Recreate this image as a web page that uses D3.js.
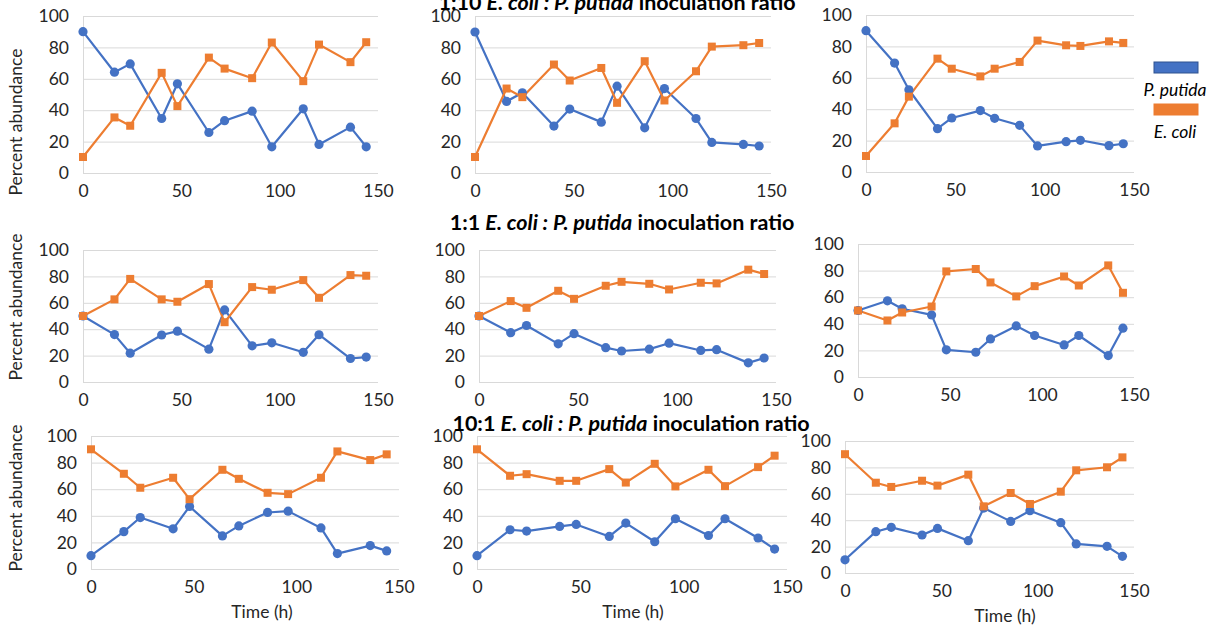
<!DOCTYPE html>
<html><head><meta charset="utf-8">
<script src="https://cdn.jsdelivr.net/npm/d3@7"></script>
<style>
html,body{margin:0;padding:0;background:#fff;}
svg{display:block;font-family:Lato,"Noto Sans",sans-serif;}
</style></head>
<body>
<svg id="c" width="1217" height="628"></svg>
<script>
// ---- data ----
const times = [0, 16, 24, 40, 48, 64, 72, 86, 96, 112, 120, 136, 144];
const xTicks = [0, 50, 100, 150];
const yTicks = [0, 20, 40, 60, 80, 100];
const seriesNames = ["P. putida", "E. coli"];

// 1:10 E. coli : P. putida
const putidaA1 = [90, 64.2, 69.5, 34.7, 56.8, 25.8, 33.3, 39.4, 16.7, 40.9, 18.2, 29.2, 16.7];
const coliA1   = [10.2, 35.4, 30.1, 63.8, 42.6, 73.5, 66.5, 60.4, 83.1, 58.5, 81.8, 70.6, 83.3];
const putidaA2 = [89.8, 45.6, 51.1, 29.9, 40.7, 32.4, 55.3, 28.8, 53.8, 34.7, 19.5, 18.2, 17.2];
const coliA2   = [10.2, 53.8, 48.3, 69.1, 58.9, 66.9, 44.7, 71.2, 46.2, 64.8, 80.5, 81.4, 82.8];
const putidaA3 = [90, 69.4, 52.4, 27.6, 34.4, 39.1, 34.2, 29.7, 16.6, 19.3, 20.2, 16.8, 18.0];
const coliA3   = [10.2, 31.0, 48.0, 72.2, 65.8, 60.9, 65.8, 70.1, 83.7, 80.7, 80.3, 83.2, 82.2];
// 1:1
const putidaB1 = [50, 35.9, 21.8, 35.6, 38.5, 24.9, 54.6, 27.4, 29.7, 22.5, 35.8, 17.8, 18.9];
const coliB1   = [50, 62.6, 78.1, 62.6, 60.8, 74.2, 45.3, 71.9, 69.9, 77.2, 63.8, 81.0, 80.5];
const putidaB2 = [50, 37.4, 42.8, 28.9, 36.6, 26.0, 23.5, 24.9, 29.4, 23.9, 24.5, 14.5, 18.2];
const coliB2   = [50, 61.3, 56.2, 69.1, 63.0, 72.9, 75.9, 74.4, 70.1, 75.2, 74.7, 85.1, 81.8];
const putidaB3 = [50, 57.3, 51.3, 46.7, 20.4, 18.6, 28.6, 38.4, 31.2, 24.1, 31.2, 16.1, 36.7];
const coliB3   = [50, 42.5, 48.5, 53.0, 79.4, 81.2, 71.1, 60.6, 68.3, 75.6, 68.8, 83.9, 63.3];
// 10:1
const putidaC1 = [10, 28.1, 38.7, 30.2, 47.0, 24.9, 32.4, 42.5, 43.5, 30.9, 11.6, 17.6, 13.6];
const coliC1   = [90, 71.6, 61.1, 68.6, 52.5, 74.6, 67.8, 57.3, 56.3, 68.6, 88.4, 81.9, 86.2];
const putidaC2 = [10, 29.5, 28.5, 32.0, 33.5, 24.5, 34.5, 20.5, 37.8, 25.2, 37.8, 23.3, 15.0];
const coliC2   = [90, 70.1, 71.3, 66.3, 66.3, 75.1, 65.0, 79.1, 62.1, 74.6, 62.3, 76.6, 85.2];
const putidaC3 = [10, 31.3, 34.6, 28.8, 33.8, 24.5, 49.2, 39.1, 47.2, 38.1, 22.0, 20.2, 12.6];
const coliC3   = [90, 68.4, 65.2, 69.9, 66.2, 74.5, 50.5, 60.6, 52.3, 61.6, 77.8, 80.1, 87.6];

const titles = [
  {pre: "1:10 ", it: "E. coli : P. putida", post: " inoculation ratio"},
  {pre: "1:1 ",  it: "E. coli : P. putida", post: " inoculation ratio"},
  {pre: "10:1 ", it: "E. coli : P. putida", post: " inoculation ratio"}
];
const yLabel = "Percent abundance";
const xLabel = "Time (h)";

// ---- layout ----
const colors = ["#4472C4", "#ED7D31"];
const panels = [
  {x0: 83,  x1: 378,  y0: 173, y1: 16,  p: putidaA1, e: coliA1, ylab: 122},
  {x0: 475, x1: 771,  y0: 173, y1: 16,  p: putidaA2, e: coliA2},
  {x0: 866, x1: 1134, y0: 172, y1: 15,  p: putidaA3, e: coliA3},
  {x0: 83,  x1: 378,  y0: 382, y1: 250, p: putidaB1, e: coliB1, ylab: 307},
  {x0: 479, x1: 776,  y0: 382, y1: 250, p: putidaB2, e: coliB2},
  {x0: 858, x1: 1134, y0: 377, y1: 244, p: putidaB3, e: coliB3},
  {x0: 91,  x1: 399,  y0: 569, y1: 436, p: putidaC1, e: coliC1, ylab: 498, xl: 262},
  {x0: 477, x1: 787,  y0: 569, y1: 436, p: putidaC2, e: coliC2, xl: 633},
  {x0: 845, x1: 1134, y0: 573, y1: 441, p: putidaC3, e: coliC3, xl: 1005}
];

const svg = d3.select("#c");
const tickColor = "#262626";
const fs = "17.5px";

panels.forEach(P => {
  const x = d3.scaleLinear().domain([0, 150]).range([P.x0, P.x1]);
  const y = d3.scaleLinear().domain([0, 100]).range([P.y0, P.y1]);
  const g = svg.append("g");

  // gridlines
  g.selectAll("line.grid").data(yTicks).join("line")
    .attr("x1", P.x0).attr("x2", P.x1)
    .attr("y1", d => y(d) + 0.5).attr("y2", d => y(d) + 0.5)
    .attr("stroke", "#d9d9d9").attr("stroke-width", 1);
  g.append("line").attr("x1", P.x0 + 0.5).attr("x2", P.x0 + 0.5)
    .attr("y1", y(0)).attr("y2", y(100)).attr("stroke", "#d9d9d9");

  // axes
  const ya = g.append("g").attr("transform", `translate(${P.x0},0)`)
    .call(d3.axisLeft(y).tickValues(yTicks).tickSize(0).tickPadding(14).tickFormat(d3.format("d")));
  const xa = g.append("g").attr("transform", `translate(0,${P.y0})`)
    .call(d3.axisBottom(x).tickValues(xTicks).tickSize(0).tickPadding(12).tickFormat(d3.format("d")));
  [ya, xa].forEach(a => {
    a.select(".domain").remove();
    a.selectAll("text").attr("fill", tickColor).style("font-size", fs)
      .style("font-family", "Lato, 'Noto Sans', sans-serif");
  });

  const line = d3.line().x((d, i) => x(times[i])).y(d => y(d));
  // P. putida
  g.append("path").datum(P.p).attr("d", line).attr("fill", "none")
    .attr("stroke", colors[0]).attr("stroke-width", 2.2).attr("stroke-linejoin", "round");
  // E. coli
  g.append("path").datum(P.e).attr("d", line).attr("fill", "none")
    .attr("stroke", colors[1]).attr("stroke-width", 2.2).attr("stroke-linejoin", "round");

  g.selectAll("circle.pp").data(P.p).join("circle")
    .attr("cx", (d, i) => x(times[i])).attr("cy", d => y(d)).attr("r", 4.6)
    .attr("fill", colors[0]);
  g.selectAll("rect.ec").data(P.e).join("rect")
    .attr("x", (d, i) => x(times[i]) - 4).attr("y", d => y(d) - 4)
    .attr("width", 8).attr("height", 8).attr("fill", colors[1]);

  if (P.ylab !== undefined) {
    svg.append("text").attr("transform", `translate(22,${P.ylab}) rotate(-90)`)
      .attr("text-anchor", "middle").attr("fill", tickColor)
      .style("font-size", fs).text(yLabel);
  }
  if (P.xl !== undefined) {
    svg.append("text").attr("x", P.xl).attr("y", P.y0 + 49)
      .attr("text-anchor", "middle").attr("fill", tickColor)
      .style("font-size", fs).text(xLabel);
  }
});

// titles
const titlePos = [{x: 617, y: 10}, {x: 622, y: 230}, {x: 631, y: 431}];
titles.forEach((t, i) => {
  const tx = svg.append("text").attr("x", titlePos[i].x).attr("y", titlePos[i].y)
    .attr("text-anchor", "middle").attr("fill", "#000")
    .style("font-size", "21.5px").style("font-weight", "bold");
  tx.append("tspan").text(t.pre);
  tx.append("tspan").style("font-style", "italic").text(t.it);
  tx.append("tspan").text(t.post);
});

// legend
const leg = svg.append("g");
const legY = [62, 104];
const legTextY = [96, 138];
seriesNames.forEach((n, i) => {
  leg.append("rect").attr("x", 1154).attr("y", legY[i]).attr("width", 44).attr("height", 11)
    .attr("fill", colors[i]).attr("stroke", i === 0 ? "#2F528F" : colors[i]).attr("stroke-width", 1);
  leg.append("text").attr("x", 1175).attr("y", legTextY[i]).attr("text-anchor", "middle")
    .attr("fill", "#000").style("font-size", fs).style("font-style", "italic").text(n);
});
</script>
</body></html>
